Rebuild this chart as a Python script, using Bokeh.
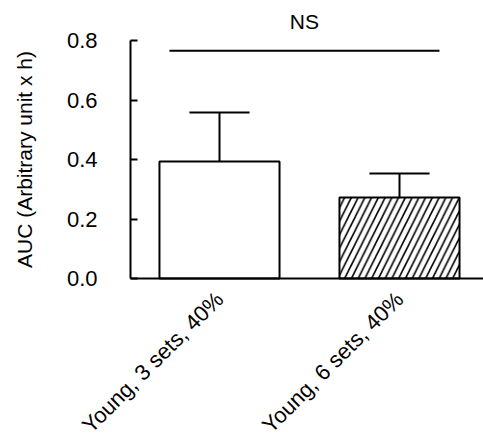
import math
from bokeh.plotting import figure
from bokeh.models import Range1d, FixedTicker, ColumnDataSource, Label
from bokeh.embed import file_html
from bokeh.resources import INLINE

categories = ["Young, 3 sets, 40%", "Young, 6 sets, 40%"]
means = [0.393, 0.272]
errors = [0.165, 0.081]
hatches = [" ", "/"]
ns_level = 0.766
ns_span = [0.722, 2.222]
y_ticks = [0.0, 0.2, 0.4, 0.6, 0.8]
y_title = "AUC (Arbitrary unit x h)"

xs = [i + 1 for i in range(len(categories))]
FONT = "Liberation Sans"

# the frame fills the whole canvas; both axes are drawn at fixed locations inside it
X0, X1 = -0.2167, 2.4667
Y0, Y1 = -0.5445, 0.9345
AXIS_X = 0.5056

p = figure(width=483, height=440, output_backend="svg", toolbar_location=None,
           x_range=Range1d(X0, X1), y_range=Range1d(Y0, Y1))
p.min_border = 0
p.outline_line_color = None
p.grid.visible = False
p.background_fill_color = "white"
p.border_fill_color = "white"

src = ColumnDataSource(dict(x=xs, top=means, hatch=hatches,
                            err_top=[m + e for m, e in zip(means, errors)]))
p.vbar(x="x", top="top", bottom=0, width=0.667, source=src,
       fill_color="white", line_color="black", line_width=2,
       hatch_pattern="hatch", hatch_color="black", hatch_scale=13.5, hatch_weight=1.6)
p.segment(x0="x", y0="top", x1="x", y1="err_top", source=src, line_color="black", line_width=2)
p.segment(x0=[x - 0.167 for x in xs], y0=src.data["err_top"],
          x1=[x + 0.167 for x in xs], y1=src.data["err_top"], line_color="black", line_width=2)

p.segment(x0=[ns_span[0]], y0=[ns_level], x1=[ns_span[1]], y1=[ns_level],
          line_color="black", line_width=2)
p.add_layout(Label(x=(ns_span[0] + ns_span[1]) / 2, y=ns_level, text="NS", text_align="center",
                   text_baseline="alphabetic", y_offset=29, text_font=FONT, text_font_size="21px",
                   text_color="black"))

# y-axis title, centred on the 0–0.8 axis
p.add_layout(Label(x=AXIS_X, y=(y_ticks[0] + y_ticks[-1]) / 2, x_offset=-106, text=y_title,
                   angle=math.pi / 2, text_align="center", text_baseline="middle",
                   text_font=FONT, text_font_size="21px", text_color="black"))

# x axis at y = 0
p.xaxis.fixed_location = 0
p.xaxis.bounds = (AXIS_X, X1)
p.xaxis.ticker = FixedTicker(ticks=xs)
p.xaxis.major_label_overrides = {x: c for x, c in zip(xs, categories)}
p.xaxis.major_label_orientation = math.pi / 4
p.xaxis.major_tick_line_color = None
p.xaxis.major_tick_out = 6
p.xaxis.major_tick_in = 0
p.xaxis.minor_tick_line_color = None
p.xaxis.axis_line_width = 2
p.xaxis.axis_line_color = "black"
p.xaxis.major_label_text_font = FONT
p.xaxis.major_label_text_font_size = "22px"
p.xaxis.major_label_text_color = "black"
p.xaxis.major_label_standoff = 11

# y axis at the left edge of the data area
p.yaxis.fixed_location = AXIS_X
p.yaxis.bounds = (y_ticks[0], y_ticks[-1])
p.yaxis.ticker = FixedTicker(ticks=y_ticks)
p.yaxis.major_label_overrides = {t: f"{t:.1f}" for t in y_ticks}
p.yaxis.major_tick_in = 7
p.yaxis.major_tick_out = 0
p.yaxis.major_tick_line_width = 2
p.yaxis.minor_tick_line_color = None
p.yaxis.axis_line_width = 2
p.yaxis.axis_line_color = "black"
p.yaxis.major_label_standoff = 33
p.yaxis.major_label_text_font = FONT
p.yaxis.major_label_text_font_size = "22px"
p.yaxis.major_label_text_color = "black"

open("out.html", "w").write(file_html(p, INLINE))
